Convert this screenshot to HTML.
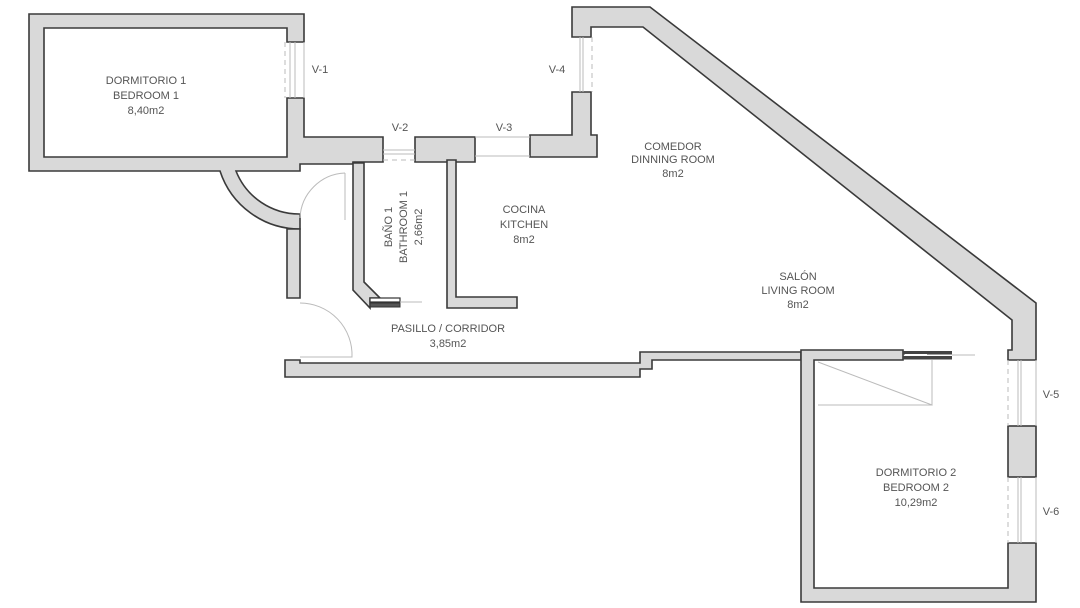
<!DOCTYPE html>
<html><head><meta charset="utf-8"><style>
html,body{margin:0;padding:0;background:#fff;}
svg{display:block;}
text{font-family:"Liberation Sans",sans-serif;font-size:11px;fill:#555;text-anchor:middle;}
.w{fill:#d9d9d9;stroke:#3a3a3a;stroke-width:1.6;stroke-linejoin:miter;}
.t{fill:none;stroke:#bbb;stroke-width:1;}
.d{fill:none;stroke:#bbb;stroke-width:1;stroke-dasharray:5,4;}
</style></head><body>
<svg width="1080" height="608" viewBox="0 0 1080 608">
<!-- corridor bottom wall -->
<path class="w" d="M285,360 H300 V363 H640 V352 H801 V360 H652 V369 H640 V377 H285 Z"/>
<!-- Bedroom 1 + wall block -->
<path class="w" d="M29,14 H304 V42 H287 V28 H44 V157 H287 V98 H304 V137 H383 V162 H353 V164 H300 V171 H236 A68,68 0 0 0 300,214 V229 A84,84 0 0 1 220,171 H29 Z"/>
<path class="w" d="M287,229 H300 V298 H287 Z"/>
<path class="w" d="M415,137 H475 V162 H415 Z"/>
<!-- right block under V-4 -->
<path class="w" d="M530,135 H572 V92 H591 V135 H597 V157 H530 Z"/>
<!-- top-right diagonal -->
<path class="w" d="M572,7 H650 L1036,303 V360 H1008 V350 H1012 V320 L643,27 H591 V37 H572 Z"/>
<!-- bathroom wall -->
<path class="w" d="M353,163 H364 V282 L380,298 H370 V308 L353,290 Z"/>
<rect x="370" y="298" width="30" height="4" fill="#fff" stroke="#333" stroke-width="1.2"/>
<rect x="370" y="303" width="30" height="4" fill="#555" stroke="#333" stroke-width="1"/>
<line class="t" x1="400" y1="302" x2="422" y2="302"/>
<!-- kitchen wall -->
<path class="w" d="M447,160 H456 V297 H517 V308 H447 Z"/>
<!-- bedroom 2 -->
<path class="w" d="M801,350 H903 V360 H814 V588 H1008 V543 H1036 V602 H801 Z"/>
<rect class="w" x="1008" y="426" width="28" height="51"/>
<rect x="903" y="351" width="49" height="3.5" fill="#444"/>
<rect x="903" y="356" width="49" height="3.5" fill="#444"/>
<rect x="905" y="354" width="22" height="2" fill="#fff"/>
<line class="t" x1="952" y1="355" x2="975" y2="355"/>
<!-- wardrobe -->
<path class="t" d="M818,362 L932,405 V360 M818,405 H932"/>
<!-- windows -->
<g class="t">
<line x1="290" y1="42" x2="290" y2="98"/><line x1="295" y1="42" x2="295" y2="98"/>
<line x1="383" y1="150" x2="415" y2="150"/><line x1="383" y1="154" x2="415" y2="154"/>
<line x1="475" y1="156" x2="530" y2="156"/><line x1="475" y1="137" x2="530" y2="137"/>
<line x1="580" y1="37" x2="580" y2="92"/><line x1="583" y1="37" x2="583" y2="92"/>
<line x1="1018" y1="360" x2="1018" y2="426"/><line x1="1021" y1="360" x2="1021" y2="426"/><line x1="1036" y1="360" x2="1036" y2="426"/>
<line x1="1018" y1="477" x2="1018" y2="543"/><line x1="1021" y1="477" x2="1021" y2="543"/><line x1="1036" y1="477" x2="1036" y2="543"/>
<line x1="304" y1="42" x2="304" y2="98"/>
</g>
<g class="d">
<line x1="285" y1="42" x2="285" y2="98"/><line x1="592" y1="37" x2="592" y2="92"/>
<line x1="1008" y1="360" x2="1008" y2="426"/><line x1="1008" y1="477" x2="1008" y2="543"/>
<line x1="383" y1="160" x2="415" y2="160"/>
</g>
<!-- doors -->
<path class="t" d="M345,173 V220 M345,173 A47,47 0 0 0 300,218"/>
<path class="t" d="M300,357 H352 A52,52 0 0 0 300,303"/>
<!-- labels -->
<text x="146" y="84">DORMITORIO 1</text><text x="146" y="99">BEDROOM 1</text><text x="146" y="114">8,40m2</text>
<text x="320" y="73">V-1</text><text x="400" y="131">V-2</text><text x="504" y="131">V-3</text><text x="557" y="73">V-4</text>
<text x="673" y="150">COMEDOR</text><text x="673" y="163">DINNING ROOM</text><text x="673" y="177">8m2</text>
<text x="524" y="213">COCINA</text><text x="524" y="228">KITCHEN</text><text x="524" y="243">8m2</text>
<text transform="translate(392,227) rotate(-90)">BAÑO 1</text>
<text transform="translate(407,227) rotate(-90)">BATHROOM 1</text>
<text transform="translate(422,227) rotate(-90)">2,66m2</text>
<text x="798" y="280">SALÓN</text><text x="798" y="294">LIVING ROOM</text><text x="798" y="308">8m2</text>
<text x="448" y="332">PASILLO / CORRIDOR</text><text x="448" y="347">3,85m2</text>
<text x="1051" y="398">V-5</text><text x="1051" y="515">V-6</text>
<text x="916" y="476">DORMITORIO 2</text><text x="916" y="491">BEDROOM 2</text><text x="916" y="506">10,29m2</text>
</svg>
</body></html>
